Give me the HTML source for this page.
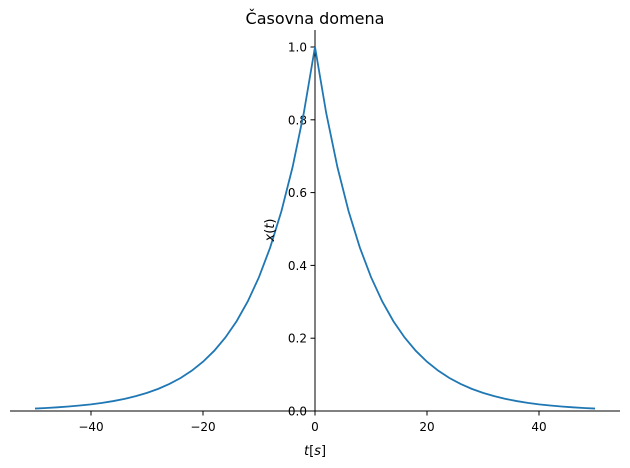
<!DOCTYPE html>
<html><head><meta charset="utf-8">
<style>
body{margin:0;background:#fff;}
svg{display:block;font-family:"DejaVu Sans","Liberation Sans",sans-serif;}
</style></head>
<body>
<svg id="chart" width="630" height="468">
<text x="315" y="24" text-anchor="middle" font-size="16" fill="#000">Časovna domena</text>
<g id="axes"></g>
<path id="curve" fill="none" stroke="#1f77b4" stroke-width="1.8"></path>
<text x="315" y="455" text-anchor="middle" font-size="13"><tspan font-style="italic">t</tspan>[<tspan font-style="italic">s</tspan>]</text>
<text transform="translate(274,230) rotate(-90)" text-anchor="middle" font-size="13"><tspan font-style="italic">x</tspan>(<tspan font-style="italic">t</tspan>)</text>
</svg>
<script>
const tVals=[-50,-48,-46,-44,-42,-40,-38,-36,-34,-32,-30,-28,-26,-24,-22,-20,-18,-16,-14,-12,-10,-8,-6,-4,-2,0,2,4,6,8,10,12,14,16,18,20,22,24,26,28,30,32,34,36,38,40,42,44,46,48,50];
const xVals=[0.0067,0.0082,0.0101,0.0123,0.0150,0.0183,0.0224,0.0273,0.0334,0.0408,0.0498,0.0608,0.0743,0.0907,0.1108,0.1353,0.1653,0.2019,0.2466,0.3012,0.3679,0.4493,0.5488,0.6703,0.8187,1.0,0.8187,0.6703,0.5488,0.4493,0.3679,0.3012,0.2466,0.2019,0.1653,0.1353,0.1108,0.0907,0.0743,0.0608,0.0498,0.0408,0.0334,0.0273,0.0224,0.0183,0.0150,0.0123,0.0101,0.0082,0.0067];
const xTicks=[-40,-20,0,20,40];
const yTicks=[0.0,0.2,0.4,0.6,0.8,1.0];
const sx=t=>315+t*5.6;
const sy=v=>411-v*364;
const NS="http://www.w3.org/2000/svg";
const ax=document.getElementById('axes');
function mk(tag,attrs){const e=document.createElementNS(NS,tag);for(const k in attrs)e.setAttribute(k,attrs[k]);ax.appendChild(e);return e;}
let e=mk('line',{x1:10,x2:620,y1:411,y2:411,stroke:'#000','stroke-width':1});


e=mk('line',{x1:315,x2:315,y1:30,y2:411,stroke:'#000','stroke-width':1});


xTicks.forEach(t=>{
  const l=mk('line',{x1:sx(t),x2:sx(t),y1:411,y2:415.5,stroke:'#000'});
  
  
  const tx=mk('text',{x:sx(t),y:431,'text-anchor':'middle','font-size':12});
  tx.textContent=(t<0?'\u2212'+(-t):String(t));
  
  
});
yTicks.forEach(v=>{
  const l=mk('line',{x1:310.5,x2:315,y1:sy(v),y2:sy(v),stroke:'#000'});
  
  
  const tx=mk('text',{x:307,y:sy(v)+4.5,'text-anchor':'end','font-size':12});
  tx.textContent=v.toFixed(1);
  
  
});
document.getElementById('curve').setAttribute('d',tVals.map((t,i)=>(i?'L':'M')+sx(t).toFixed(2)+','+sy(xVals[i]).toFixed(2)).join(''));
</script>
</body></html>
